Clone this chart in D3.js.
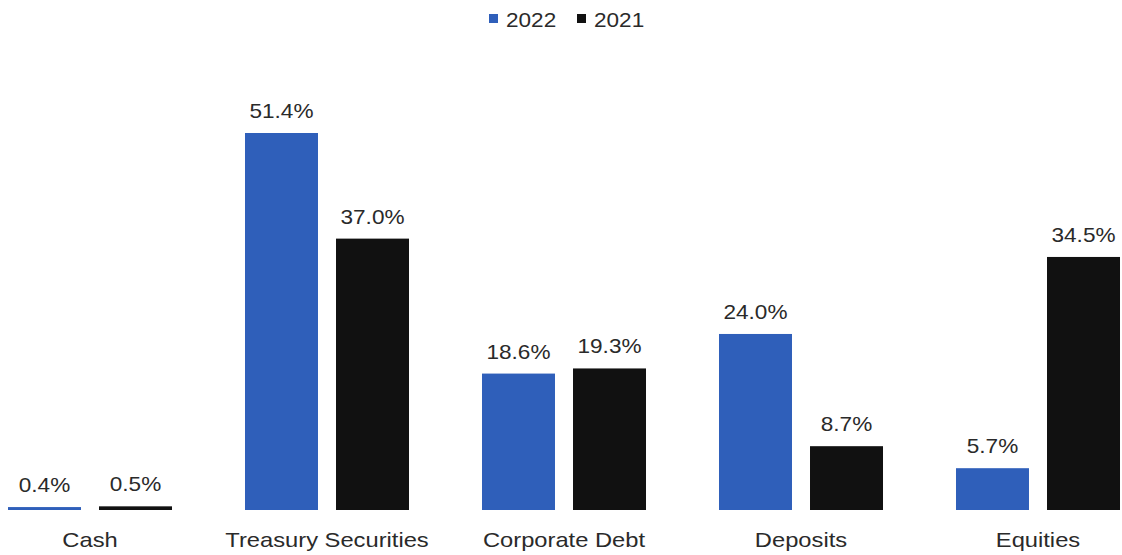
<!DOCTYPE html>
<html>
<head>
<meta charset="utf-8">
<script src="https://cdn.jsdelivr.net/npm/d3@7"></script>
<style>
  html, body { margin: 0; padding: 0; background: #fff; }
  svg { display: block; font-family: "Liberation Sans", Arial, sans-serif; }
</style>
</head>
<body>
<svg id="chart" width="1122" height="555"></svg>
<script>
// Asset allocation by category, share of total (%)
const categories = ["Cash", "Treasury Securities", "Corporate Debt", "Deposits", "Equities"];
const seriesNames = ["2022", "2021"];
const values2022 = [0.4, 51.4, 18.6, 24.0, 5.7];
const values2021 = [0.5, 37.0, 19.3, 8.7, 34.5];
const seriesColors = ["#2f5fba", "#111111"];

const svg = d3.select("#chart");
const baseline = 510;
const hStretch = 1.13; // horizontally widened lettering
const textColor = "#2a2a2a";

const rows = categories.map((c, i) => ({ category: c, values: [values2022[i], values2021[i]] }));

const x0 = d3.scaleBand().domain(categories).range([-28.5, 1156.5]).paddingInner(0).paddingOuter(0);
const x1 = d3.scaleBand().domain(seriesNames).range([0, x0.bandwidth()])
  .paddingInner(0.198).paddingOuter(0.401);
const y = d3.scaleLinear().domain([0, 51.4]).range([baseline, 133]);

const groups = svg.append("g").selectAll("g.group")
  .data(rows).join("g")
  .attr("class", "group")
  .attr("transform", d => `translate(${x0(d.category)},0)`);

const bars = groups.selectAll("g.bar")
  .data(d => d.values.map((v, k) => ({ series: seriesNames[k], value: v, k })))
  .join("g").attr("class", "bar");

bars.append("rect")
  .attr("x", d => x1(d.series))
  .attr("width", x1.bandwidth())
  .attr("y", d => y(d.value))
  .attr("height", d => Math.max(2, baseline - y(d.value)))
  .attr("fill", d => seriesColors[d.k]);

bars.append("g")
  .attr("transform", d => `translate(${x1(d.series) + x1.bandwidth() / 2},${Math.min(y(d.value), baseline - 2) - 15})`)
  .append("text")
  .attr("transform", `scale(${hStretch},1)`)
  .attr("text-anchor", "middle")
  .attr("font-size", 20)
  .attr("fill", textColor)
  .text(d => d.value.toFixed(1) + "%");

// Category labels under each group
groups.append("g")
  .attr("transform", `translate(${x0.bandwidth() / 2},547)`)
  .append("text")
  .attr("transform", `scale(${hStretch},1)`)
  .attr("text-anchor", "middle")
  .attr("font-size", 21)
  .attr("fill", textColor)
  .text(d => d.category);

// Legend
const legend = svg.append("g");
const legendItems = [
  { name: seriesNames[0], color: seriesColors[0], x: 489 },
  { name: seriesNames[1], color: seriesColors[1], x: 577 }
];
const li = legend.selectAll("g").data(legendItems).join("g")
  .attr("transform", d => `translate(${d.x},0)`);
li.append("rect").attr("x", 0).attr("y", 14).attr("width", 9).attr("height", 9).attr("fill", d => d.color);
li.append("g").attr("transform", "translate(17,27)")
  .append("text")
  .attr("transform", `scale(${hStretch},1)`)
  .attr("font-size", 20)
  .attr("fill", textColor)
  .text(d => d.name);
</script>
</body>
</html>
